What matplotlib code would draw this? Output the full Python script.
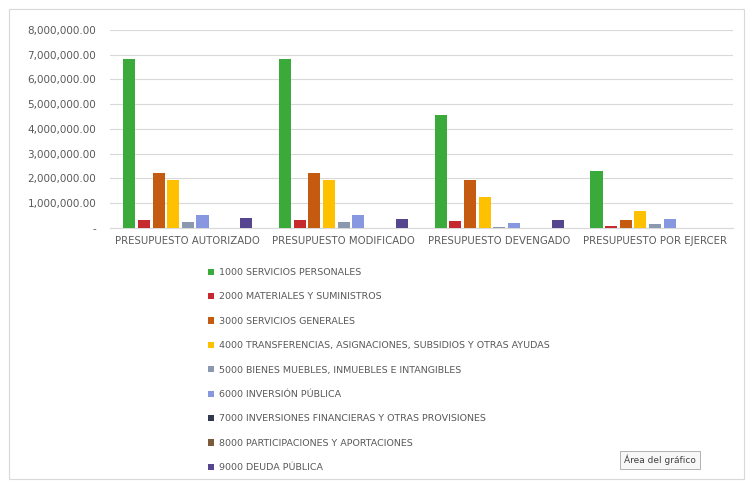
import matplotlib
matplotlib.use("Agg")
import matplotlib.pyplot as plt
import numpy as np
from matplotlib.patches import Rectangle
from matplotlib.ticker import FuncFormatter, MultipleLocator

categories = ["PRESUPUESTO AUTORIZADO", "PRESUPUESTO MODIFICADO",
              "PRESUPUESTO DEVENGADO", "PRESUPUESTO POR EJERCER"]
series_names = [
    "1000 SERVICIOS PERSONALES",
    "2000 MATERIALES Y SUMINISTROS",
    "3000 SERVICIOS GENERALES",
    "4000 TRANSFERENCIAS, ASIGNACIONES, SUBSIDIOS Y OTRAS AYUDAS",
    "5000 BIENES MUEBLES, INMUEBLES E INTANGIBLES",
    "6000 INVERSIÓN PÚBLICA",
    "7000 INVERSIONES FINANCIERAS Y OTRAS PROVISIONES",
    "8000 PARTICIPACIONES Y APORTACIONES",
    "9000 DEUDA PÚBLICA",
]
s1000 = [6820000, 6820000, 4560000, 2310000]
s2000 = [310000, 310000, 270000, 60000]
s3000 = [2230000, 2230000, 1930000, 310000]
s4000 = [1930000, 1930000, 1260000, 680000]
s5000 = [220000, 240000, 30000, 150000]
s6000 = [510000, 510000, 200000, 350000]
s7000 = [0, 0, 0, 0]
s8000 = [0, 0, 0, 0]
s9000 = [380000, 350000, 310000, 0]
values = [s1000, s2000, s3000, s4000, s5000, s6000, s7000, s8000, s9000]

colors = ["#3aab3a", "#c62a2e", "#c55a11", "#ffc000", "#8a99b0",
          "#8797e0", "#2f3a4f", "#7a5c3a", "#56458f"]

fig = plt.figure(figsize=(7.55, 4.84), dpi=100)
fig.patch.set_facecolor("white")
ax = fig.add_axes([0.1457, 0.5295, 0.825, 0.4085])

x = np.arange(len(categories))
n = len(values)
slot = 0.094
bw = 0.078
for i, (vals, c) in enumerate(zip(values, colors)):
    offs = (i - (n - 1) / 2) * slot
    ax.bar(x + offs, vals, width=bw, color=c, label=series_names[i], zorder=3)

ax.set_xlim(-0.5, len(categories) - 0.5)
ax.set_ylim(0, 8000000)
ax.yaxis.set_major_locator(MultipleLocator(1000000))

def fmt(v, pos):
    if v == 0:
        return "-"
    return f"{v:,.2f}"
ax.yaxis.set_major_formatter(FuncFormatter(fmt))
ax.set_xticks(x)
ax.set_xticklabels(categories, fontsize=7.3)
ax.tick_params(axis="both", length=0, colors="#595959")
ax.tick_params(axis="y", pad=10, labelsize=7.5)
ax.tick_params(axis="x", pad=6)
ax.grid(axis="y", color="#d9d9d9", linewidth=0.8, zorder=0)
for s in ["top", "right", "left"]:
    ax.spines[s].set_visible(False)
ax.spines["bottom"].set_color("#d9d9d9")
ax.set_facecolor("white")

handles, labels = ax.get_legend_handles_labels()
leg = fig.legend(handles, labels, loc="upper left",
                 bbox_to_anchor=(208 / 755, 1 - 268 / 484), ncol=1, frameon=False,
                 fontsize=6.8, labelcolor="#595959", handlelength=0.65,
                 handleheight=0.65, handletextpad=0.55, labelspacing=1.63,
                 borderaxespad=0, borderpad=0)

# outer chart border
fig.add_artist(Rectangle((9 / 755, 1 - 479 / 484), (744 - 9) / 755, (479 - 9) / 484,
                         transform=fig.transFigure, fill=False,
                         edgecolor="#d9d9d9", linewidth=0.8))

# tooltip box
fig.text(660 / 755, 1 - 460 / 484, "Área del gráfico", fontsize=6.5,
         color="#404040", ha="center", va="center",
         bbox=dict(boxstyle="square,pad=0.45", facecolor="#f7f7f7",
                   edgecolor="#a6a6a6", linewidth=0.6))

fig.savefig("out.png", dpi=100, facecolor="white")
